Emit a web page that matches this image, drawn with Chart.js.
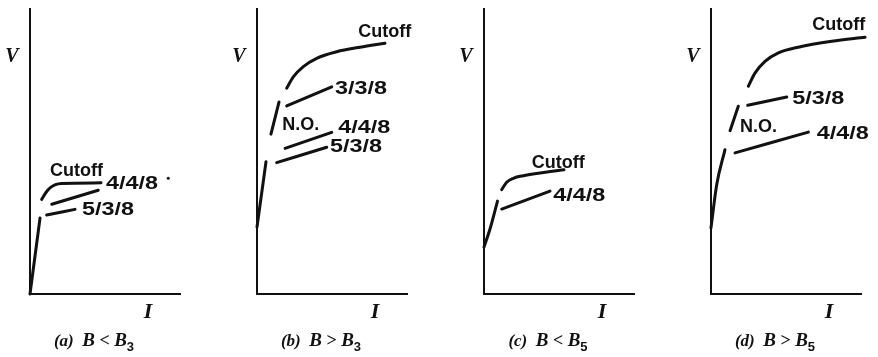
<!DOCTYPE html>
<html>
<head>
<meta charset="utf-8">
<script src="https://cdn.jsdelivr.net/npm/chart.js@4.4.1/dist/chart.umd.min.js"></script>
<style>
  html, body { margin: 0; padding: 0; background: #fff; overflow: hidden; }
  #wrap { position: relative; width: 878px; height: 357px; }
  .panel { position: absolute; top: 0; width: 200px; height: 357px; }
</style>
</head>
<body>
<div id="wrap">
  <div class="panel" style="left:0px"><canvas id="pa"></canvas></div>
  <div class="panel" style="left:227px"><canvas id="pb"></canvas></div>
  <div class="panel" style="left:454px"><canvas id="pc"></canvas></div>
  <div class="panel" style="left:681px"><canvas id="pd"></canvas></div>
</div>
<script>
// curves as [I, V] in arbitrary units (0..10 on both axes)
// panel (a) B < B3
const aRise = [[0, 0], [0.67, 2.67]];
const aCutoff = [[0.78, 3.32], [0.95, 3.47], [1.15, 3.62], [1.4, 3.75], [1.7, 3.84], [2.1, 3.88], [4.73, 3.9]];
const a448 = [[1.45, 3.15], [4.55, 3.64]];
const a538 = [[1.11, 2.77], [3.0, 2.97]];
const aSpeck = [[9.22, 4.06]];
const aLabels = ['Cutoff', '4/4/8', '5/3/8'];
const aLabelI = [1.33, 5.07, 3.47];
const aLabelV = [4.32, 3.86, 2.93];

// panel (b) B > B3
const bRise = [[0, 2.35], [0.6, 4.64]];
const bCutoff = [[1.98, 7.22], [2.42, 7.62], [3.09, 7.98], [3.98, 8.27], [5.31, 8.5], [6.87, 8.66], [8.53, 8.8]];
const b338 = [[1.98, 6.6], [4.98, 7.27]];
const bNO = [[0.93, 5.61], [1.47, 6.74]];
const b448 = [[1.87, 5.11], [4.98, 5.67]];
const b538 = [[1.31, 4.61], [4.65, 5.15]];
const bLabels = ['Cutoff', '3/3/8', 'N.O.', '4/4/8', '5/3/8'];
const bLabelI = [6.75, 5.2, 1.69, 5.42, 4.87];
const bLabelV = [9.18, 7.19, 5.93, 5.82, 5.14];

// panel (c) B < B5
const cRise = [[0, 1.65], [0.4, 2.28], [0.9, 3.26]];
const cCutoff = [[1.18, 3.66], [1.51, 3.92], [1.95, 4.06], [2.62, 4.15], [5.33, 4.36]];
const c448 = [[1.18, 2.98], [4.4, 3.61]];
const cLabels = ['Cutoff', '4/4/8'];
const cLabelI = [3.18, 4.62];
const cLabelV = [4.6, 3.45];

// panel (d) B > B5
const dRise = [[0, 2.32], [0.38, 3.83], [0.93, 5.06]];
const dCutoff = [[2.49, 7.29], [2.93, 7.75], [3.6, 8.16], [4.49, 8.46], [5.82, 8.66], [8.05, 8.87], [10.27, 9.01]];
const d538 = [[2.45, 6.62], [5.05, 6.91]];
const dNO = [[1.27, 5.73], [1.82, 6.59]];
const d448 = [[1.6, 4.95], [6.49, 5.68]];
const dLabels = ['Cutoff', '5/3/8', 'N.O.', '4/4/8'];
const dLabelI = [6.75, 5.42, 1.93, 7.05];
const dLabelV = [9.42, 6.85, 5.86, 5.63];

// captions under each panel
const capTags = ['(a)', '(b)', '(c)', '(d)'];
const capRel = ['<', '>', '<', '>'];
const capSub = ['3', '3', '5', '5'];

const ink = '#111';

function toPts(arr) {
    return arr.map(p => ({ x: p[0], y: p[1] }));
}

function lineSet(arr) {
    return {
        data: toPts(arr),
        showLine: true,
        borderColor: ink,
        borderWidth: 3,
        borderCapStyle: 'round',
        pointRadius: 0,
        cubicInterpolationMode: 'monotone',
        clip: false
    };
}

// draws the curve labels, the V / I axis letters and the caption
function sketchText(labels, li, lv, k) {
    return {
        id: 'sketchText' + k,
        afterDatasetsDraw(chart) {
            const ctx = chart.ctx;
            const area = chart.chartArea;
            const xs = chart.scales.x;
            const ys = chart.scales.y;
            ctx.save();
            ctx.fillStyle = ink;
            ctx.textBaseline = 'middle';
            ctx.textAlign = 'left';
            ctx.font = 'bold 18px "Liberation Sans", Arial, sans-serif';
            labels.forEach((t, i) => {
                const px = xs.getPixelForValue(li[i]);
                const py = ys.getPixelForValue(lv[i]);
                // the numbered labels are set in a wide face in the original
                const wide = /\d/.test(t) ? 1.3 : 1;
                ctx.save();
                ctx.translate(px, py);
                ctx.scale(wide, 1);
                ctx.fillText(t, 0, 0);
                ctx.restore();
            });

            ctx.textAlign = 'center';
            ctx.font = 'bold italic 20px "Liberation Serif", "Times New Roman", serif';
            ctx.fillText('V', area.left - 18, area.top + 48);
            ctx.font = 'bold italic 22px "Liberation Serif", "Times New Roman", serif';
            ctx.fillText('I', area.left + 118, area.bottom + 18);

            // caption, e.g. (a) B < B3 with a subscript
            const parts = [
                { t: capTags[k] + '  ', f: 'bold italic 17px "Liberation Serif", serif', dy: 0 },
                { t: 'B', f: 'bold italic 19px "Liberation Serif", serif', dy: 0 },
                { t: ' ' + capRel[k] + ' ', f: 'bold 18px "Liberation Serif", serif', dy: 0 },
                { t: 'B', f: 'bold italic 19px "Liberation Serif", serif', dy: 0 },
                { t: capSub[k], f: 'bold 13px "Liberation Sans", sans-serif', dy: 5 }
            ];
            ctx.textAlign = 'left';
            ctx.textBaseline = 'alphabetic';
            let total = 0;
            parts.forEach(p => { ctx.font = p.f; p.w = ctx.measureText(p.t).width; total += p.w; });
            let cx = area.left + 64 - total / 2;
            const base = area.bottom + 52;
            parts.forEach(p => {
                ctx.font = p.f;
                ctx.fillText(p.t, cx, base + p.dy);
                cx += p.w;
            });
            ctx.restore();
        }
    };
}

function makePanel(id, k, curves, labels, li, lv, speck) {
    const datasets = curves.map(lineSet);
    if (speck) {
        datasets.push({
            data: toPts(speck),
            showLine: false,
            pointRadius: 1.5,
            pointBackgroundColor: ink,
            pointBorderWidth: 0,
            clip: false
        });
    }
    new Chart(document.getElementById(id), {
        type: 'scatter',
        data: { datasets: datasets },
        options: {
            responsive: true,
            maintainAspectRatio: false,
            animation: false,
            events: [],
            layout: { padding: { left: 30, right: 20, top: 9, bottom: 63 } },
            plugins: { legend: { display: false }, tooltip: { enabled: false } },
            scales: {
                x: {
                    type: 'linear', min: 0, max: 10,
                    ticks: { display: false },
                    grid: { display: false, drawTicks: false },
                    border: { display: true, color: ink, width: 2 }
                },
                y: {
                    type: 'linear', min: 0, max: 10,
                    ticks: { display: false },
                    grid: { display: false, drawTicks: false },
                    border: { display: true, color: ink, width: 2 }
                }
            }
        },
        plugins: [sketchText(labels, li, lv, k)]
    });
}

makePanel('pa', 0, [aRise, aCutoff, a448, a538], aLabels, aLabelI, aLabelV, aSpeck);
makePanel('pb', 1, [bRise, bCutoff, b338, bNO, b448, b538], bLabels, bLabelI, bLabelV);
makePanel('pc', 2, [cRise, cCutoff, c448], cLabels, cLabelI, cLabelV);
makePanel('pd', 3, [dRise, dCutoff, d538, dNO, d448], dLabels, dLabelI, dLabelV);
</script>
</body>
</html>
